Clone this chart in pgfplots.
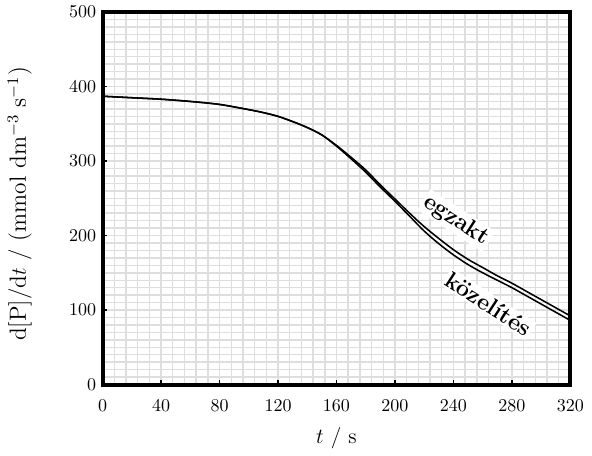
\documentclass[border=0pt]{standalone}
\usepackage{pgfplots}
\pgfplotsset{compat=1.18}
\begin{document}
\begin{tikzpicture}
\begin{axis}[
  scale only axis,
  width=260pt, height=207pt,
  xmin=0, xmax=320, ymin=0, ymax=500,
  xtick={0,40,...,320}, ytick={0,100,...,500},
  minor x tick num=4, minor y tick num=9,
  grid=both,
  major grid style={black!13, line width=0.8pt},
  minor grid style={black!13, line width=0.8pt},
  axis line style={line width=2.2pt},
  tick style={black, line width=0.9pt},
  major tick length=2.5pt, minor tick length=0pt,
  tick align=inside, tick pos=left,
  xticklabel style={yshift=-5pt},
  xlabel={$t$ / s},
  ylabel={d[P]/d$t$ / (mmol dm$^{-3}$ s$^{-1}$)},
  xlabel style={font=\large, at={(axis description cs:0.5,-0.145)}, anchor=center},
  ylabel style={font=\fontsize{13}{15}\selectfont, at={(axis description cs:-0.177,0.485)}, anchor=center},
  clip=false,
]
\addplot[black, line width=0.85pt, smooth] coordinates {
(0,387) (10,386) (20,385) (40,383) (60,380) (80,376) (100,369) (110,365) (120,360) (130,353) (140,345) (150,335) (160,321) (170,305) (180,288) (190,268) (200,249) (210,230) (220,212) (230,196) (240,181) (250,168) (260,157) (270,146) (280,136) (290,125) (300,114) (310,103) (320,92)
};
\addplot[black, line width=0.85pt, smooth] coordinates {
(0,387) (10,386) (20,385) (40,383) (60,380) (80,376) (100,369) (110,365) (120,360) (130,353) (140,345) (150,335) (160,320) (170,303) (180,285) (190,265) (200,246) (210,226) (220,206) (230,189) (240,174) (250,161) (260,150) (270,140) (280,130) (290,119) (300,108) (310,97) (320,86)
};
\node[rotate=-33, fill=white, inner sep=1pt, font=\fontsize{13}{15}\selectfont\bfseries] at (axis cs:242,220) {egzakt};
\node[rotate=-33, fill=white, inner sep=1pt, font=\fontsize{13}{15}\selectfont\bfseries] at (axis cs:264,108) {közelítés};
\path (rel axis cs:0,0) ++(-57pt,-38pt) (rel axis cs:1,1) ++(12pt,6.7pt);
\end{axis}
\end{tikzpicture}
\end{document}
